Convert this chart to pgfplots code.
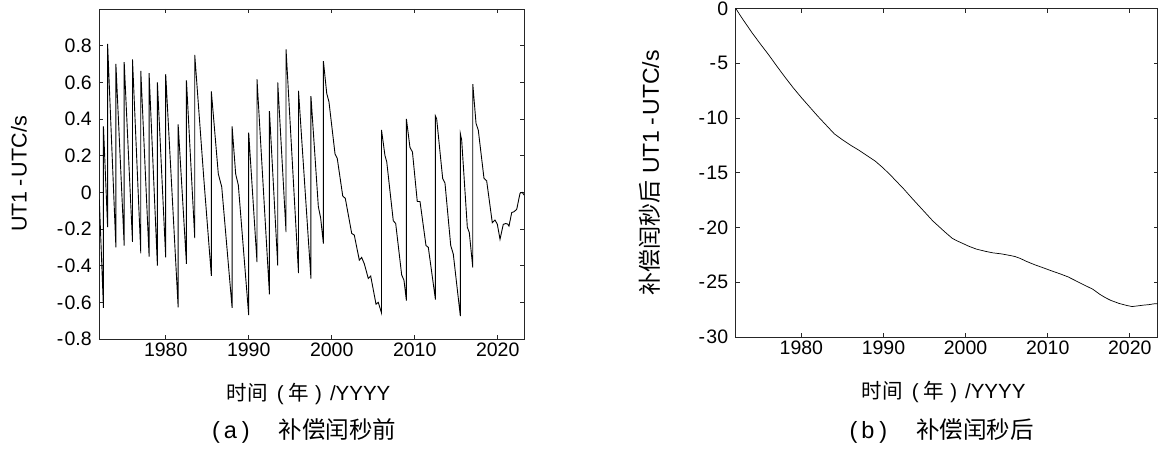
\documentclass[border=0pt]{standalone}
\usepackage{fontspec}
\setmainfont{Liberation Sans}
\newfontfamily\cjk{Noto Sans CJK SC}
\usepackage{pgfplots}
\usepackage{pgfplotstable}
\pgfplotsset{compat=1.18}

\pgfplotstableread{
x y
1972.0 -0.04
1972.5 -0.63
1972.5 0.36
1973.0 -0.19
1973.0 0.81
1974.0 -0.30
1974.0 0.70
1975.0 -0.29
1975.0 0.71
1976.0 -0.27
1976.0 0.725
1977.0 -0.333
1977.0 0.662
1978.0 -0.35
1978.0 0.65
1979.0 -0.40
1979.0 0.60
1980.0 -0.355
1980.0 0.644
1981.5 -0.627
1981.5 0.37
1982.5 -0.39
1982.5 0.61
1983.5 -0.25
1983.5 0.75
1984.6 0.07
1985.5 -0.455
1985.5 0.55
1986.34 0.10
1986.75 0.03
1988.0 -0.63
1988.0 0.36
1988.43 0.10
1988.75 0.04
1990.0 -0.67
1990.0 0.325
1991.0 -0.38
1991.0 0.617
1992.5 -0.556
1992.5 0.443
1993.5 -0.40
1993.5 0.60
1994.5 -0.217
1994.5 0.78
1996.0 -0.44
1996.0 0.554
1997.5 -0.47
1997.5 0.525
1998.39 -0.078
1998.67 -0.14
1999.0 -0.28
1999.0 0.716
1999.40 0.54
1999.67 0.494
2000.40 0.21
2000.67 0.185
2001.33 -0.02
2001.64 -0.033
2002.41 -0.224
2002.72 -0.233
2003.33 -0.37
2003.61 -0.355
2003.93 -0.39
2004.41 -0.47
2004.70 -0.457
2005.34 -0.61
2005.61 -0.60
2006.0 -0.657
2006.0 0.34
2006.42 0.20
2006.63 0.167
2007.42 -0.155
2007.71 -0.17
2008.43 -0.45
2008.71 -0.48
2009.0 -0.59
2009.0 0.40
2009.43 0.245
2009.73 0.22
2010.31 -0.05
2010.64 -0.05
2011.36 -0.29
2011.64 -0.30
2012.5 -0.585
2012.5 0.416
2012.65 0.40
2013.37 0.076
2013.65 0.05
2014.34 -0.29
2014.65 -0.337
2015.5 -0.675
2015.5 0.32
2015.66 0.285
2016.34 -0.19
2016.58 -0.22
2017.0 -0.41
2017.0 0.59
2017.39 0.376
2017.66 0.34
2018.35 0.076
2018.67 0.063
2019.35 -0.166
2019.67 -0.151
2019.95 -0.173
2020.28 -0.256
2020.67 -0.175
2020.96 -0.17
2021.20 -0.173
2021.36 -0.184
2021.69 -0.11
2021.96 -0.106
2022.29 -0.093
2022.69 -0.005
2022.96 0.0
2023.17 -0.015
}\dataA

\pgfplotstableread{
x y
1972.0 0
1972.5 -0.59
1973.0 -1.15
1974.0 -2.24
1975.0 -3.25
1976.0 -4.23
1977.0 -5.27
1978.0 -6.28
1979.0 -7.25
1980.0 -8.15
1981.0 -9.0
1982.0 -9.85
1983.0 -10.65
1984.0 -11.45
1985.0 -12.0
1986.0 -12.5
1987.0 -12.95
1988.0 -13.45
1989.0 -13.95
1990.0 -14.6
1991.0 -15.34
1992.5 -16.516
1993.5 -17.36
1994.5 -18.177
1996.0 -19.40
1997.5 -20.43
1998.39 -21.0
1999.0 -21.24
1999.67 -21.466
2000.40 -21.72
2001.33 -21.98
2002.41 -22.18
2003.33 -22.32
2004.41 -22.42
2005.34 -22.55
2006.0 -22.65
2006.63 -22.82
2007.42 -23.1
2008.43 -23.41
2009.0 -23.56
2009.73 -23.76
2010.64 -24.01
2011.64 -24.27
2012.5 -24.52
2013.37 -24.85
2014.34 -25.22
2015.5 -25.64
2016.34 -26.1
2017.0 -26.4
2017.66 -26.65
2018.67 -26.93
2019.67 -27.13
2020.28 -27.22
2020.96 -27.16
2021.69 -27.09
2022.29 -27.05
2022.96 -26.97
2023.40 -26.96
}\dataB

\begin{document}
\begin{tikzpicture}
\pgfplotsset{
  myaxis/.style={
    scale only axis,
    anchor=south west,
    clip mode=individual,
    axis line style={black!85, line width=0.6pt},
    major tick style={black!85, line width=0.6pt},
    tick align=inside,
    major tick length=4.2pt,
    xtick={1980,1990,2000,2010,2020},
    xticklabels={1980,1990,2000,2010,2020},
    tick label style={font=\fontsize{19.5}{22}\selectfont},
    yticklabel style={xshift=-4pt},
    label style={font=\fontsize{20.5}{24}\selectfont},
    xlabel style={at={(axis description cs:0.5,0)}, anchor=center, yshift=-55pt, xshift=-3pt},
    ylabel style={anchor=center},
  }
}
\def\m{-\kern1.3pt}
\def\hy{\kern0.2em-\kern0.12em}
\def\xl{{\cjk 时间}\kern9pt(\kern5pt{\cjk 年}\kern6pt)\kern8pt/YYYY}
\begin{axis}[myaxis,
  at={(99.3pt,111pt)}, width=424.7pt, height=330pt,
  xmin=1972, xmax=2023.17, ymin=-0.8, ymax=1.0,
  ytick={-0.8,-0.6,-0.4,-0.2,0,0.2,0.4,0.6,0.8},
  yticklabels={\m0.8,\m0.6,\m0.4,\m0.2,0,0.2,0.4,0.6,0.8},
  xlabel={\xl},
  ylabel={UT1\hy UTC/s},
  ylabel style={at={(axis description cs:-0.189,0.5)}, font=\fontsize{21.5}{24}\selectfont},
]
\addplot[black, line width=0.9pt] table[x=x,y=y] {\dataA};
\node[font=\fontsize{23.5}{26}\selectfont] at (axis description cs:0.5,0) [yshift=-92pt, xshift=-7.5pt] {(\kern4pt a\kern5pt)\kern29pt{\cjk 补偿闰秒前}};
\end{axis}
\begin{axis}[myaxis,
  at={(735.7pt,113pt)}, width=422pt, height=328.7pt,
  xmin=1972, xmax=2023.4, ymin=-30, ymax=0,
  ytick={-30,-25,-20,-15,-10,-5,0},
  yticklabels={\m30,\m25,\m20,\m15,\m10,\m5,0},
  xlabel={\xl},
  ylabel={{\cjk 补偿闰秒后} UT1\hy UTC/s},
  ylabel style={at={(axis description cs:-0.203,0.5)}, font=\fontsize{23}{26}\selectfont},
]
\addplot[black, line width=0.7pt] table[x=x,y=y] {\dataB};
\node[font=\fontsize{23.5}{26}\selectfont] at (axis description cs:0.5,0) [yshift=-94pt, xshift=-5pt] {(\kern4pt b\kern5pt)\kern29pt{\cjk 补偿闰秒后}};
\end{axis}
\pgfresetboundingbox
\path[use as bounding box] (0,0) rectangle (1163pt,450pt);
\end{tikzpicture}
\end{document}
